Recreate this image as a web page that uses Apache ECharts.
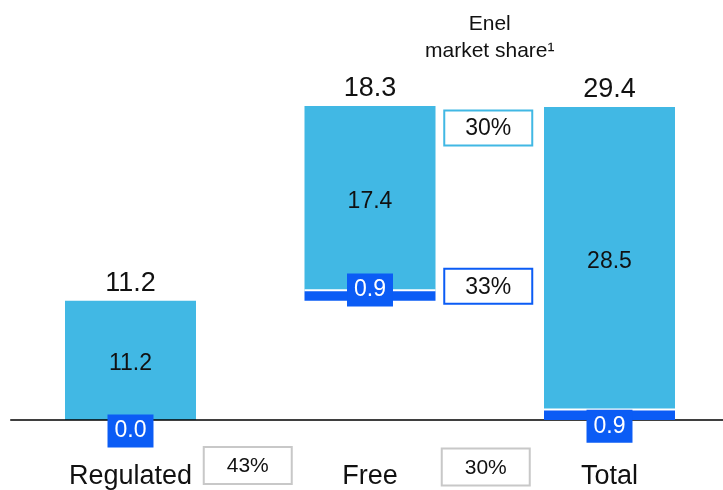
<!DOCTYPE html>
<html>
<head>
<meta charset="utf-8">
<script src="https://cdn.jsdelivr.net/npm/echarts@6/dist/echarts.min.js"></script>
<style>
  html, body { margin: 0; background: #fff; }
  #chart { width: 723px; height: 490px; }
</style>
</head>
<body>
<div id="chart"></div>
<script>
const categories = ['Regulated', 'Free', 'Total']
const baseValues = [0, 11.2, 0]          // invisible offset (waterfall)
const enelValues = [0.0, 0.9, 0.9]       // dark blue part
const otherValues = [11.2, 17.4, 28.5]   // light blue part
const totals = [11.2, 18.3, 29.4]
const shareBetween = ['43%', '30%']      // under the axis, between bars
const freeShares = ['30%', '33%']        // next to Free: light part, dark part

const LIGHT = '#41B8E4'
const DARK = '#0B5CF5'
const FONT = 'Liberation Sans, Arial, sans-serif'

// label nudges for the small dark segments
const enelLabelOffset = [[0, 11], [0, -6], [0, 11]]

const chart = echarts.init(document.getElementById('chart'))

chart.setOption({
  animation: false,
  textStyle: { fontFamily: FONT },
  grid: { left: 10.75, right: -6.25, top: 100.6, bottom: 70, outerBoundsMode: 'none', containLabel: false },
  xAxis: {
    type: 'category',
    data: categories,
    z: 5,
    axisLine: { lineStyle: { color: '#000', width: 1.5 } },
    axisTick: { show: false },
    axisLabel: { color: '#111', fontSize: 27, margin: 43, fontFamily: FONT },
  },
  yAxis: { type: 'value', min: 0, max: 30, show: false },
  series: [
    {
      type: 'bar', stack: 's', barWidth: 131,
      data: baseValues,
      itemStyle: { color: 'transparent' },
      silent: true,
    },
    {
      // stacked under the light part but drawn above it (z);
      // its white shadow makes the thin gap between the two
      type: 'bar', stack: 's', barWidth: 131,
      data: enelValues.map((v, i) => ({
        value: v,
        label: { offset: enelLabelOffset[i] },
      })),
      itemStyle: { color: DARK, shadowColor: '#fff', shadowOffsetY: -2, shadowBlur: 0 },
      label: {
        show: true,
        position: 'inside',
        formatter: (p) => p.value.toFixed(1),
        color: '#fff',
        fontSize: 23,
        lineHeight: 23,
        backgroundColor: DARK,
        padding: [5, 7, 5, 7],
        fontFamily: FONT,
      },
      z: 6,
    },
    {
      type: 'bar', stack: 's', barWidth: 131,
      data: otherValues,
      itemStyle: { color: LIGHT },
      label: {
        show: true,
        position: 'inside',
        offset: [0, 3],
        formatter: (p) => p.value.toFixed(1),
        color: '#111',
        fontSize: 23,
        fontFamily: FONT,
      },
    },
    {
      // zero-height cap, only carries the total label
      type: 'bar', stack: 's', barWidth: 131,
      data: totals.map(() => 0),
      itemStyle: { color: 'transparent' },
      label: {
        show: true,
        position: 'top',
        distance: 4,
        formatter: (p) => totals[p.dataIndex].toFixed(1),
        color: '#111',
        fontSize: 27,
        fontFamily: FONT,
      },
    },
  ],
})

function px(cat, val) {
  return chart.convertToPixel({ xAxisIndex: 0, yAxisIndex: 0 }, [cat, val])
}

function shareBox(cx, top, h, text, size, border) {
  const w = 88
  return {
    type: 'group',
    children: [
      {
        type: 'rect',
        shape: { x: cx - w / 2, y: top, width: w, height: h },
        style: { fill: '#fff', stroke: border, lineWidth: 2 },
      },
      {
        type: 'text',
        x: cx, y: top + h / 2 + 1,
        style: {
          text, fill: '#111', fontSize: size, fontFamily: FONT,
          align: 'center', verticalAlign: 'middle',
        },
      },
    ],
  }
}

const graphics = []
// between-category boxes under the axis
const shareShift = [[-2.5, 27], [-4, 28.5]]
shareBetween.forEach((s, i) => {
  const a = px(i, 0), b = px(i + 1, 0)
  graphics.push(shareBox((a[0] + b[0]) / 2 + shareShift[i][0], a[1] + shareShift[i][1], 37, s, 21, '#C8C8C8'))
})
// boxes beside the Free bar
const freeTop = px(1, baseValues[1] + enelValues[1] + otherValues[1])
const freeBottom = px(1, baseValues[1])
const midX = (px(1, 0)[0] + px(2, 0)[0]) / 2
graphics.push(shareBox(midX - 1.5, freeTop[1] + 4.5, 35, freeShares[0], 23, LIGHT))
graphics.push(shareBox(midX - 1.5, freeBottom[1] - 32, 35, freeShares[1], 23, DARK))
// header
graphics.push({
  type: 'text', x: midX, y: 24,
  style: { text: 'Enel', fill: '#111', fontSize: 21, fontFamily: FONT, align: 'center', verticalAlign: 'middle' },
})
graphics.push({
  type: 'text', x: midX, y: 51,
  style: { text: 'market share¹', fill: '#111', fontSize: 21, fontFamily: FONT, align: 'center', verticalAlign: 'middle' },
})

chart.setOption({ graphic: graphics })
</script>
</body>
</html>
